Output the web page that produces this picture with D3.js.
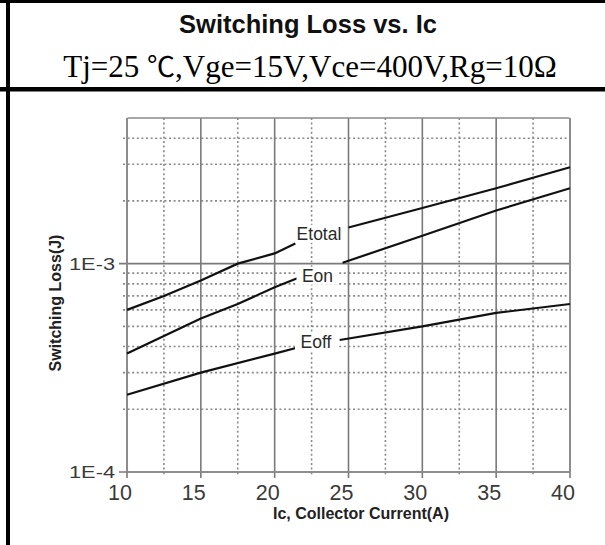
<!DOCTYPE html>
<html>
<head>
<meta charset="utf-8">
<script src="https://cdn.jsdelivr.net/npm/d3@7"></script>
<style>
html,body{margin:0;padding:0;background:#fff;}
svg{display:block;}
</style>
</head>
<body>
<script>
// ---- data ----
const title = "Switching Loss vs. Ic";
const subtitleParts = ["Tj=25 ", "\u2103", ",Vge=15V,Vce=400V,Rg=10\u03A9"];
const xTitle = "Ic, Collector Current(A)";
const yTitle = "Switching Loss(J)";
const xTickValues = [10, 15, 20, 25, 30, 35, 40];
const xMinorValues = [12.5, 17.5, 22.5, 27.5, 32.5, 37.5];
const yMajorValues = [1e-4, 1e-3];
const yMajorLabels = ["1E-4", "1E-3"];
const yMinorValues = [2e-4, 3e-4, 4e-4, 5e-4, 6e-4, 7e-4, 8e-4, 9e-4, 2e-3, 3e-3, 4e-3];
// series: [Ic, loss]; null marks the gap where the label sits
const etotal = [[10, 6.0e-4], [12.5, 7.0e-4], [15, 8.3e-4], [17.5, 1.0e-3], [20, 1.12e-3], [21.4, 1.25e-3], null,
                [25, 1.49e-3], [30, 1.85e-3], [35, 2.3e-3], [40, 2.9e-3]];
const eon = [[10, 3.7e-4], [12.5, 4.5e-4], [15, 5.45e-4], [17.5, 6.4e-4], [20, 7.7e-4], [21.7, 8.6e-4], null,
             [24.6, 1.01e-3], [30, 1.36e-3], [35, 1.8e-3], [40, 2.3e-3]];
const eoff = [[10, 2.35e-4], [15, 3.0e-4], [20, 3.7e-4], [21.5, 3.95e-4], null,
              [24.4, 4.3e-4], [30, 5.0e-4], [35, 5.8e-4], [40, 6.4e-4]];
const seriesNames = ["Etotal", "Eon", "Eoff"];
const seriesData = [etotal, eon, eoff];
// label anchor points (Ic, loss)
const labelPos = [[23.0, 1.39e-3], [22.9, 8.75e-4], [22.8, 4.2e-4]];

// ---- drawing ----
const W = 605, H = 545;
const svg = d3.select("body").append("svg").attr("width", W).attr("height", H);

// frame
svg.append("rect").attr("x", 0).attr("y", 0).attr("width", W).attr("height", 3).attr("fill", "#000");
svg.append("rect").attr("x", 0).attr("y", 87).attr("width", W).attr("height", 4.5).attr("fill", "#000");
svg.append("rect").attr("x", 6).attr("y", 0).attr("width", 4).attr("height", H).attr("fill", "#000");

svg.append("text").attr("x", 308).attr("y", 33).attr("text-anchor", "middle")
  .attr("font-family", "Liberation Sans, Arial, sans-serif").attr("font-weight", "bold")
  .attr("font-size", 25.5).attr("fill", "#111").text(title);
const sub = svg.append("text").attr("x", 310).attr("y", 77).attr("text-anchor", "middle")
  .attr("font-family", "Liberation Serif, Times New Roman, serif")
  .attr("font-size", 31).attr("fill", "#000");
sub.selectAll("tspan").data(subtitleParts).enter().append("tspan")
  .attr("font-family", (d, i) => i === 1 ? "Noto Sans CJK SC, sans-serif" : null)
  .attr("font-size", (d, i) => i === 1 ? 28 : null)
  .text(d => d);

const x = d3.scaleLinear().domain([10, 40]).range([127, 570]);
const y = d3.scaleLog().domain([1e-4, 5e-3]).range([472, 118]);

const g = svg.append("g");
const gridCol = "#8a8a8a";

// minor horizontal dotted
g.selectAll(".hmin").data(yMinorValues).enter().append("line")
  .attr("x1", x(10) - 4).attr("x2", x(40)).attr("y1", d => y(d)).attr("y2", d => y(d))
  .attr("stroke", gridCol).attr("stroke-width", 1.6).attr("stroke-dasharray", "2,2.6");
// minor vertical dotted
g.selectAll(".vmin").data(xMinorValues).enter().append("line")
  .attr("x1", d => x(d)).attr("x2", d => x(d)).attr("y1", y(5e-3)).attr("y2", y(1e-4) + 4)
  .attr("stroke", gridCol).attr("stroke-width", 1.6).attr("stroke-dasharray", "2,2.6");
// major vertical solid
g.selectAll(".vmaj").data(xTickValues).enter().append("line")
  .attr("x1", d => x(d)).attr("x2", d => x(d)).attr("y1", y(5e-3)).attr("y2", y(1e-4) + 6)
  .attr("stroke", "#7a7a7a").attr("stroke-width", 1.6);
// major horizontal solid
g.selectAll(".hmaj").data(yMajorValues).enter().append("line")
  .attr("x1", x(10) - 8).attr("x2", x(40)).attr("y1", d => y(d)).attr("y2", d => y(d))
  .attr("stroke", "#7a7a7a").attr("stroke-width", 1.6);
// frame of plot
g.append("rect").attr("x", x(10)).attr("y", y(5e-3)).attr("width", x(40) - x(10))
  .attr("height", y(1e-4) - y(5e-3)).attr("rx", 2).attr("fill", "none")
  .attr("stroke", "#8a8a8a").attr("stroke-width", 1.6);

// tick labels
g.selectAll(".xl").data(xTickValues).enter().append("text")
  .attr("x", d => x(d) - 7).attr("y", 500).attr("text-anchor", "middle")
  .attr("font-family", "Liberation Sans, Arial, sans-serif").attr("font-size", 21.5)
  .attr("fill", "#3a3a3a").text(d => d);
g.selectAll(".yl").data(yMajorValues).enter().append("text")
  .attr("x", 69).attr("y", d => y(d) + 6).attr("textLength", 46).attr("lengthAdjust", "spacingAndGlyphs")
  .attr("font-family", "Liberation Sans, Arial, sans-serif").attr("font-size", 16.5)
  .attr("fill", "#3a3a3a").text((d, i) => yMajorLabels[i]);

// axis titles
svg.append("text").attr("x", 361).attr("y", 519).attr("text-anchor", "middle")
  .attr("font-family", "Liberation Sans, Arial, sans-serif").attr("font-weight", "bold")
  .attr("font-size", 16).attr("fill", "#222").text(xTitle);
svg.append("text").attr("transform", "translate(61,303) rotate(-90)").attr("text-anchor", "middle")
  .attr("font-family", "Liberation Sans, Arial, sans-serif").attr("font-weight", "bold")
  .attr("font-size", 16).attr("fill", "#222").text(yTitle);

// curves
const line = d3.line().defined(d => d !== null).x(d => x(d[0])).y(d => y(d[1]));
g.selectAll(".curve").data(seriesData).enter().append("path")
  .attr("d", line).attr("fill", "none").attr("stroke", "#111").attr("stroke-width", 2.2);

// labels with white backing
const labs = g.selectAll(".lab").data(seriesNames).enter().append("g")
  .attr("transform", (d, i) => `translate(${x(labelPos[i][0])},${y(labelPos[i][1])})`);
labs.append("rect").attr("x", -21).attr("y", -9).attr("width", 42).attr("height", 18).attr("fill", "#fff");
labs.append("text").attr("text-anchor", "middle").attr("dy", "0.36em")
  .attr("font-family", "Liberation Sans, Arial, sans-serif").attr("font-size", 17.5)
  .attr("fill", "#2a2a2a").text(d => d);
</script>
</body>
</html>
